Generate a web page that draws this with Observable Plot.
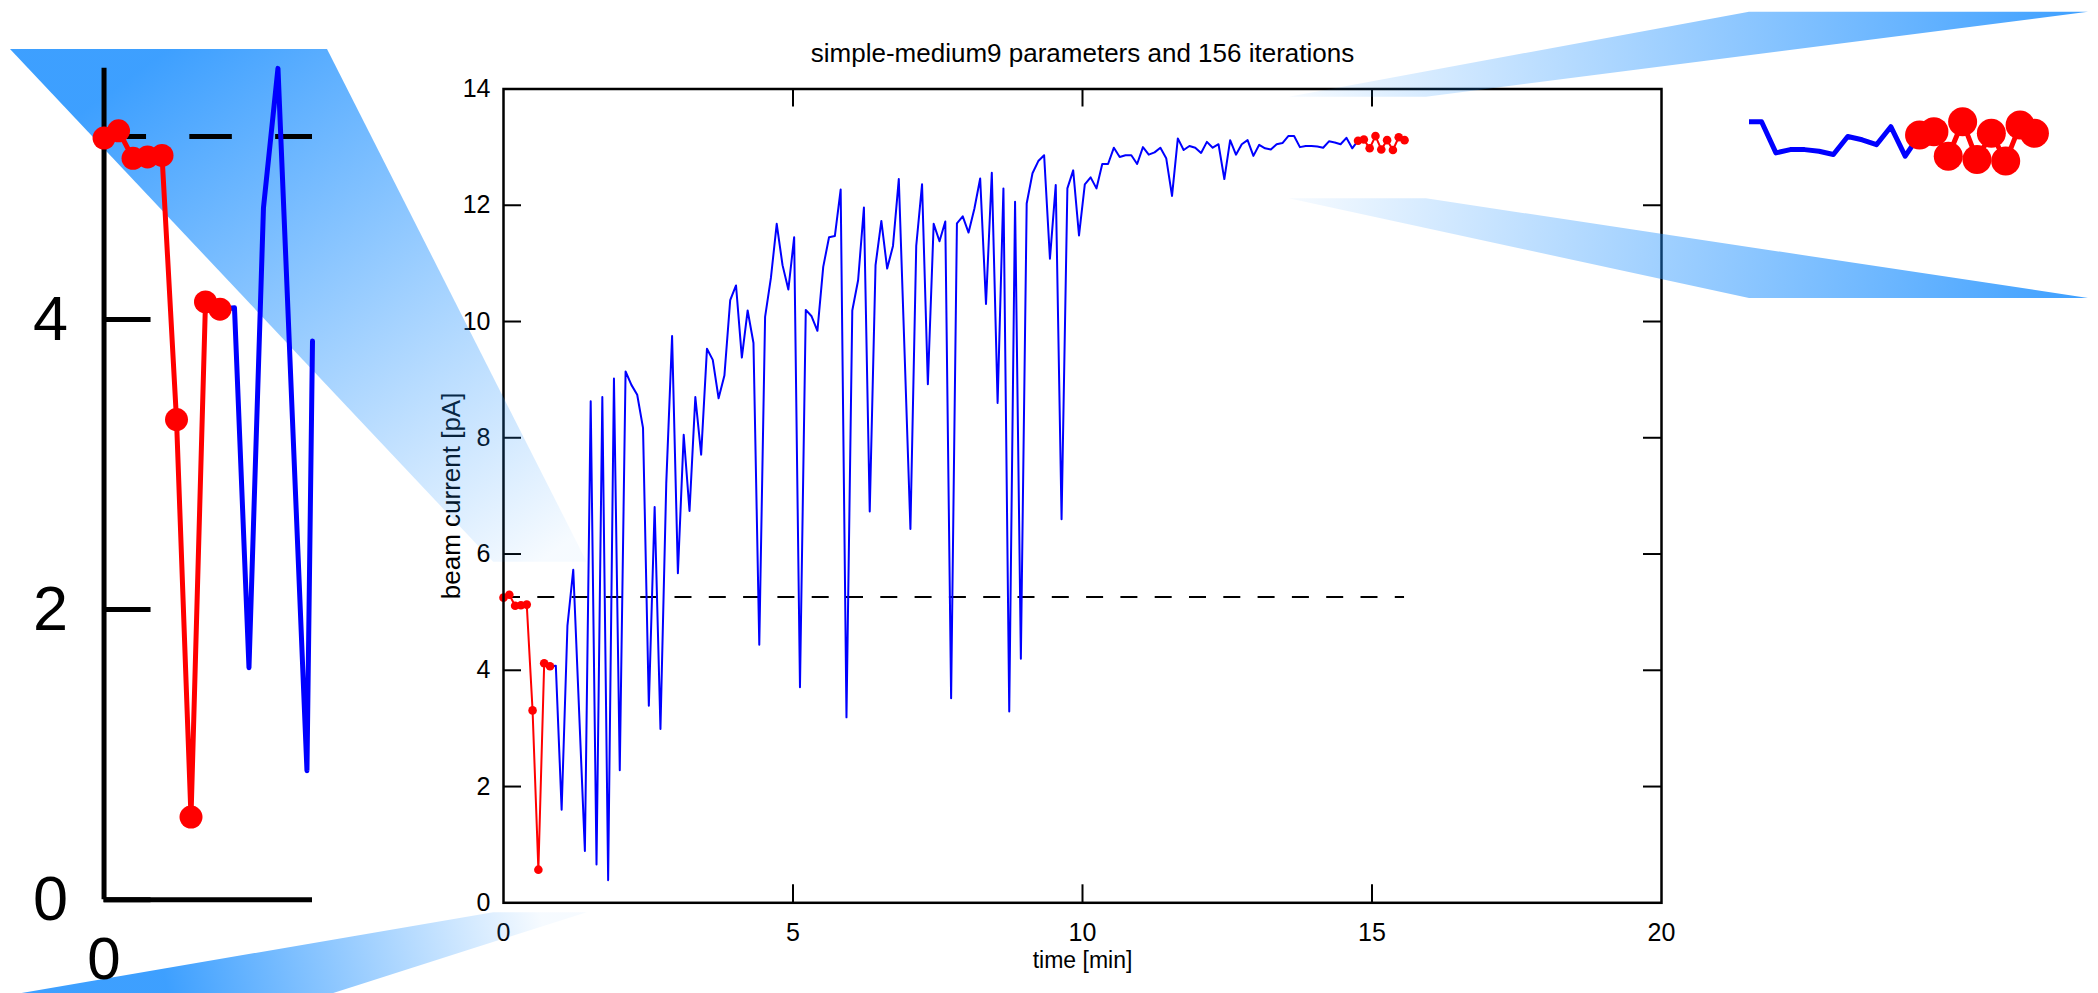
<!DOCTYPE html>
<html><head><meta charset="utf-8">
<script src="https://cdn.jsdelivr.net/npm/d3@7"></script>
<script src="https://cdn.jsdelivr.net/npm/@observablehq/plot@0.6"></script>
<style>
html,body{margin:0;padding:0;background:#fff;}
#page{position:relative;width:2098px;height:993px;overflow:hidden;background:#fff;}
#page svg{position:absolute;left:0;top:0;}
</style></head><body><div id="page"></div>
<script>
// ---------- data ----------
const title = "simple-medium9 parameters and 156 iterations";
const xLabel = "time [min]";
const yLabel = "beam current [pA]";
const xTicks = [0, 5, 10, 15, 20];
const yTicks = [0, 2, 4, 6, 8, 10, 12, 14];
const insetYTicks = [0, 2, 4];
const insetXTicks = [0];
const minutesPerIteration = 0.1004;
const targetCurrent = 5.26;
const startIterations = 9;   // red, initial phase
const endIterations = 9;     // red, final phase
const beamCurrent = [
  5.25, 5.30, 5.11, 5.12, 5.13, 3.31, 0.57, 4.12, 4.07,
  4.08, 1.60, 4.77, 5.73, 3.31, 0.89, 8.63, 0.66, 8.70, 0.39,
  9.02, 2.28, 9.14, 8.91, 8.74, 8.17, 3.39, 6.81, 2.99, 7.22,
  9.75, 5.67, 8.05, 6.74, 8.70, 7.71, 9.53, 9.34, 8.68, 9.07,
  10.37, 10.62, 9.38, 10.19, 9.63, 4.44, 10.08, 10.75, 11.68, 10.97,
  10.55, 11.45, 3.71, 10.20, 10.09, 9.84, 10.94, 11.45, 11.47, 12.27,
  3.19, 10.19, 10.71, 11.96, 6.73, 10.97, 11.73, 10.91, 11.30, 12.45,
  9.45, 6.43, 11.30, 12.36, 8.92, 11.68, 11.38, 11.72, 3.52, 11.69,
  11.81, 11.53, 11.94, 12.46, 10.30, 12.56, 8.60, 12.29, 3.29, 12.06,
  4.20, 12.03, 12.55, 12.76, 12.86, 11.08, 12.35, 6.60, 12.29, 12.60,
  11.48, 12.36, 12.48, 12.29, 12.71, 12.71, 12.99, 12.83, 12.86, 12.86,
  12.71, 13.00, 12.87, 12.91, 12.99, 12.81, 12.16, 13.15, 12.95, 13.02,
  12.99, 12.90, 13.09, 12.99, 13.05, 12.45, 13.12, 12.87, 13.05, 13.12,
  12.85, 13.04, 12.98, 12.96, 13.05, 13.07, 13.19, 13.19, 13.00, 13.02,
  13.02, 13.01, 12.99, 13.10, 13.08, 13.05, 13.16, 12.98, 13.11,
  13.13, 12.98, 13.19, 12.96, 13.12, 12.95, 13.17, 13.12
];
// zoomed regions (time [min], current [pA])
const leftZoomX = [-0.17, 1.444];
const leftZoomY = [-0.17, 5.86];
const rightZoomX = [13.57, 15.94];
const rightZoomY = [12.11, 13.86];

// ---------- layout ----------
const W = 2098, H = 993;
const FONT = "'Liberation Sans', Arial, Helvetica, sans-serif";
const BLUE = "#0000ff", RED = "#ff0000";
const mainBox = {left: 503, right: 1661, top: 88.5, bottom: 902.3};
const leftPlotBox = {left: 79, right: 312, top: 49, bottom: 924};
const leftOuterBox = {x0: 10, x1: 327, y0: 49, y1: 995};
const rightPlotBox = {left: 1749, right: 2088, top: 11.7, bottom: 298};

const rows = beamCurrent.map((v, i) => ({t: i * minutesPerIteration, v}));
const n = rows.length;
const startRows = rows.slice(0, startIterations);
const midRows = rows.slice(startIterations - 1, n - endIterations + 1);
const endRows = rows.slice(n - endIterations);
const lastT = rows[n - 1].t;

// geometric clipping of a polyline at a right edge (like a renderer does), so the
// stroke keeps its full width at the inset border
function clipRight(data, tMax) {
  const out = [];
  for (let i = 0; i < data.length; i++) {
    const a = data[i];
    if (a.t <= tMax) { out.push(a); continue; }
    const p = data[i - 1];
    if (p && p.t < tMax) out.push({t: tMax, v: p.v + (a.v - p.v) * (tMax - p.t) / (a.t - p.t)});
    break;
  }
  return out;
}

const page = document.getElementById("page");
const baseStyle = {background: "transparent", fontFamily: FONT, color: "#000", overflow: "visible"};

// ---------- main plot ----------
const innerW = mainBox.right - mainBox.left;
const innerH = mainBox.bottom - mainBox.top;
const innerXTicks = xTicks.slice(1, -1);
const innerYTicks = yTicks.slice(1, -1);
const tick = 18;
const mainPlot = Plot.plot({
  width: W, height: H,
  marginLeft: mainBox.left, marginRight: W - mainBox.right,
  marginTop: mainBox.top, marginBottom: H - mainBox.bottom,
  style: {...baseStyle, fontSize: "25px"},
  x: {domain: [xTicks[0], xTicks[xTicks.length - 1]], label: null},
  y: {domain: [yTicks[0], yTicks[yTicks.length - 1]], label: null},
  marks: [
    Plot.axisX(xTicks, {tickSize: 0, tickPadding: 20, fontSize: 25, label: null, tickFormat: d => String(d)}),
    Plot.axisY(yTicks, {tickSize: 0, tickPadding: 13, fontSize: 25, label: null, tickFormat: d => String(d)}),
    Plot.tickX(innerXTicks, {x: d => d, insetTop: innerH - tick, strokeWidth: 2}),
    Plot.tickX(innerXTicks, {x: d => d, insetBottom: innerH - tick, strokeWidth: 2}),
    Plot.tickY(innerYTicks, {y: d => d, insetRight: innerW - tick, strokeWidth: 2}),
    Plot.tickY(innerYTicks, {y: d => d, insetLeft: innerW - tick, strokeWidth: 2}),
    Plot.ruleY([targetCurrent], {x1: 0, x2: lastT, stroke: "#000", strokeWidth: 2, strokeDasharray: "17,17.3"}),
    Plot.line(midRows, {x: "t", y: "v", stroke: BLUE, strokeWidth: 2}),
    Plot.line(startRows, {x: "t", y: "v", stroke: RED, strokeWidth: 2}),
    Plot.dot(startRows, {x: "t", y: "v", r: 4.3, fill: RED}),
    Plot.line(endRows, {x: "t", y: "v", stroke: RED, strokeWidth: 2}),
    Plot.dot(endRows, {x: "t", y: "v", r: 4.3, fill: RED}),
    Plot.frame({stroke: "#000", strokeWidth: 2.5}),
    Plot.text([title], {text: d => d, frameAnchor: "top", lineAnchor: "middle", textAnchor: "middle", dy: -35, fontSize: 26}),
    Plot.text([xLabel], {text: d => d, frameAnchor: "bottom", lineAnchor: "middle", textAnchor: "middle", dy: 58, fontSize: 23}),
    Plot.text([yLabel], {text: d => d, frameAnchor: "left", lineAnchor: "middle", textAnchor: "middle", dx: -52, rotate: -90, fontSize: 26})
  ]
});
page.appendChild(mainPlot);

// ---------- zoom connectors ----------
const mx = mainPlot.scale("x").apply, my = mainPlot.scale("y").apply;
const overlay = d3.create("svg").attr("width", W).attr("height", H);
const defs = overlay.append("defs");
function band(id, pts, from, to) {
  const g = defs.append("linearGradient").attr("id", id).attr("gradientUnits", "userSpaceOnUse")
    .attr("x1", from[0]).attr("y1", from[1]).attr("x2", to[0]).attr("y2", to[1]);
  g.append("stop").attr("offset", 0).attr("stop-color", "#1e90ff").attr("stop-opacity", 0.04);
  g.append("stop").attr("offset", 1).attr("stop-color", "#1e90ff").attr("stop-opacity", 0.86);
  overlay.append("polygon").attr("points", pts.map(p => p.join(",")).join(" ")).attr("fill", `url(#${id})`);
}
{
  const rx0 = mx(leftZoomX[0]), rx1 = mx(leftZoomX[1]);
  const rt = my(leftZoomY[1]), rb = my(leftZoomY[0]);
  const b = leftOuterBox;
  band("gLU", [[rx0, rt], [rx1, rt], [b.x1, b.y0], [b.x0, b.y0]], [(rx0 + rx1) / 2, rt], [(b.x0 + b.x1) / 2, b.y0]);
  band("gLD", [[rx0, rb], [rx1, rb], [b.x1, b.y1], [b.x0, b.y1]], [(rx0 + rx1) / 2, rb], [(b.x0 + b.x1) / 2, b.y1]);
}
{
  const rx0 = mx(rightZoomX[0]), rx1 = mx(rightZoomX[1]);
  const rt = my(rightZoomY[1]), rb = my(rightZoomY[0]);
  const b = rightPlotBox;
  band("gRU", [[rx0, rt], [rx1, rt], [b.right, b.top], [b.left, b.top]], [rx0, rt], [b.right, b.top]);
  band("gRD", [[rx0, rb], [rx1, rb], [b.right, b.bottom], [b.left, b.bottom]], [rx0, rb], [b.right, b.bottom]);
}
page.appendChild(overlay.node());

// ---------- left inset ----------
const lpW = leftPlotBox.right - leftPlotBox.left;
const lPxPerMin = lpW / (leftZoomX[1] - leftZoomX[0]);
const insetTickLen = 47 / lPxPerMin;
const insetAxisTop = d3.max(rows.filter(d => d.t >= 0 && d.t <= leftZoomX[1]), d => d.v);
const leftPlot = Plot.plot({
  width: W, height: H,
  marginLeft: leftPlotBox.left, marginRight: W - leftPlotBox.right,
  marginTop: leftPlotBox.top, marginBottom: H - leftPlotBox.bottom,
  style: {...baseStyle, fontSize: "62px"},
  x: {domain: leftZoomX, axis: null},
  y: {domain: leftZoomY, axis: null},
  marks: [
    Plot.ruleY([0], {x1: 0, x2: leftZoomX[1], stroke: "#000", strokeWidth: 5}),
    Plot.ruleX([0], {y1: 0, y2: insetAxisTop, stroke: "#000", strokeWidth: 5}),
    Plot.ruleY(insetYTicks, {x1: 0, x2: insetTickLen, stroke: "#000", strokeWidth: 5}),
    Plot.text(insetYTicks, {x: 0, y: d => d, text: d => String(d), textAnchor: "end", dx: -36, fontSize: 63}),
    Plot.text(insetXTicks, {x: d => d, y: 0, text: d => String(d), dy: 60, fontSize: 60}),
    Plot.ruleY([targetCurrent], {x1: 0, x2: leftZoomX[1], stroke: "#000", strokeWidth: 5, strokeDasharray: "42.5,43.3"}),
    Plot.line(clipRight(midRows, leftZoomX[1]), {x: "t", y: "v", stroke: BLUE, strokeWidth: 5}),
    Plot.line(startRows, {x: "t", y: "v", stroke: RED, strokeWidth: 5}),
    Plot.dot(startRows, {x: "t", y: "v", r: 11.5, fill: RED})
  ]
});
page.appendChild(leftPlot);

// ---------- right inset ----------
const rightPlot = Plot.plot({
  width: W, height: H,
  marginLeft: rightPlotBox.left, marginRight: W - rightPlotBox.right,
  marginTop: rightPlotBox.top, marginBottom: H - rightPlotBox.bottom,
  style: baseStyle,
  x: {domain: rightZoomX, axis: null},
  y: {domain: rightZoomY, axis: null},
  marks: [
    Plot.line(midRows, {x: "t", y: "v", stroke: BLUE, strokeWidth: 5, clip: true}),
    Plot.line(endRows, {x: "t", y: "v", stroke: RED, strokeWidth: 5, clip: true}),
    Plot.dot(endRows, {x: "t", y: "v", r: 14.5, fill: RED})
  ]
});
page.appendChild(rightPlot);
</script></body></html>
